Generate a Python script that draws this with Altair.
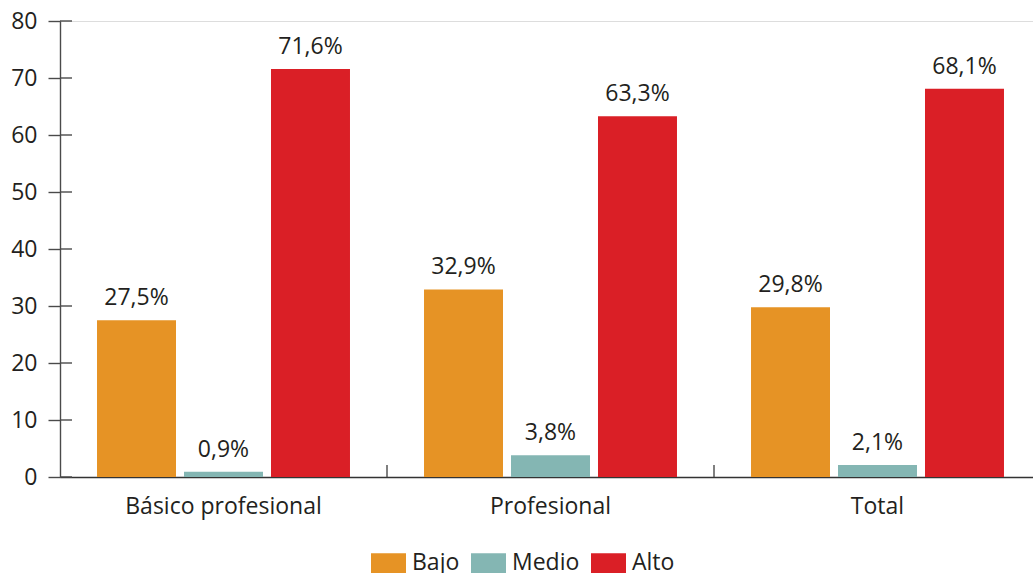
import altair as alt
import pandas as pd

categories = ["Básico profesional", "Profesional", "Total"]
levels = ["Bajo", "Medio", "Alto"]
bajo = [27.5, 32.9, 29.8]
medio = [0.9, 3.8, 2.1]
alto = [71.6, 63.3, 68.1]
colors = ["#E69325", "#84B6B3", "#DA1F26"]
y_ticks = [0, 10, 20, 30, 40, 50, 60, 70, 80]
x_tick_cats = ["Profesional", "Total"]

rows = []
for i, c in enumerate(categories):
    for lvl, vals in zip(levels, [bajo, medio, alto]):
        rows.append({"cat": c, "nivel": lvl, "valor": vals[i]})
df = pd.DataFrame(rows)

FONT = "Open Sans"
TXT = "#231F20"
AX = "#4a4a4a"
PLOT_W = 973
PLOT_H = 456

x_enc = alt.X("cat:N", sort=categories,
              scale=alt.Scale(domain=categories, range=[0, 981], paddingInner=0, paddingOuter=0),
              axis=alt.Axis(title=None, labelAngle=0, labelFontSize=23, labelFont=FONT,
                            labelColor=TXT, ticks=False, tickSize=0, labelPadding=18,
                            labelLimit=500, domainColor="#333333", domainWidth=1.6))
y_enc = alt.Y("valor:Q",
              scale=alt.Scale(domain=[0, 80], nice=False),
              axis=alt.Axis(title=None, values=y_ticks, labelFontSize=23, labelFont=FONT,
                            labelColor=TXT, tickSize=12, tickColor=AX, tickWidth=1.4,
                            domainColor=AX, domainWidth=1.4, labelPadding=11, grid=False))
xoff = alt.XOffset("nivel:N", sort=levels,
                   scale=alt.Scale(domain=levels, paddingInner=0.092, paddingOuter=0.4255))

bars = alt.Chart(df).mark_bar().encode(
    x=x_enc,
    y=y_enc,
    xOffset=xoff,
    color=alt.Color("nivel:N", sort=levels,
                    scale=alt.Scale(domain=levels, range=colors),
                    legend=alt.Legend(title=None, orient="none", direction="horizontal",
                                      legendX=311, legendY=524.5, padding=0,
                                      symbolType="M-1,-0.5714L1,-0.5714L1,0.5714L-1,0.5714Z",
                                      symbolSize=1225, symbolStrokeWidth=0, symbolOpacity=1,
                                      labelFontSize=23, labelFont=FONT, labelColor=TXT,
                                      labelOffset=6, columnPadding=11)),
)

labels = alt.Chart(df).transform_calculate(
    lab="replace(format(datum.valor, '.1f'), '.', ',') + '%'"
).mark_text(baseline="alphabetic", dy=-15, fontSize=23, font=FONT, color=TXT).encode(
    x=alt.X("cat:N", sort=categories),
    xOffset=alt.XOffset("nivel:N", sort=levels),
    y=alt.Y("valor:Q"),
    text="lab:N",
)

inner_y_ticks = alt.Chart(pd.DataFrame({"t": y_ticks})).mark_rule(color=AX, strokeWidth=1.4).encode(
    x=alt.value(0), x2=alt.value(12), y=alt.Y("t:Q")
)

x_ticks = alt.Chart(pd.DataFrame({"cat": x_tick_cats})).mark_rule(color=AX, strokeWidth=1.4).encode(
    x=alt.X("cat:N", sort=categories, bandPosition=0),
    y=alt.value(PLOT_H - 12), y2=alt.value(PLOT_H),
)

chart = alt.layer(bars, labels, inner_y_ticks, x_ticks).properties(
    width=PLOT_W, height=PLOT_H,
    autosize=alt.AutoSizeParams(type="none"),
    padding={"left": 60, "top": 21, "right": 0, "bottom": 96},
).configure_view(stroke=None).configure(font=FONT, background="white")

chart.save("out.html", embed_options={"renderer": "svg", "actions": False})
